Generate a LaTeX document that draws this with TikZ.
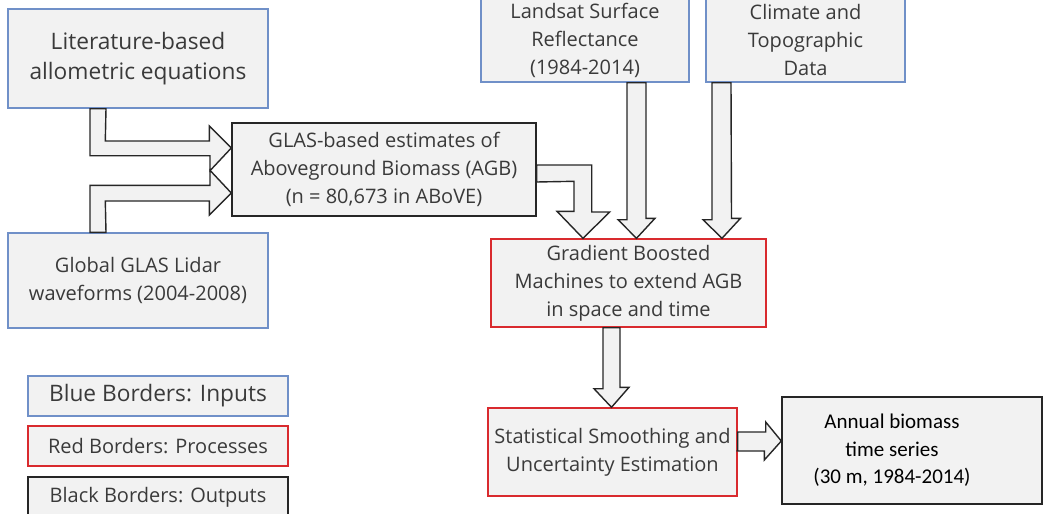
\documentclass[tikz,border=0pt]{standalone}
\usepackage{fontspec}
\setmainfont{Open Sans}
\newfontfamily\calfont{Carlito}
\usepackage{xcolor}
\usetikzlibrary{calc}
\definecolor{BInput}{HTML}{7090C8}
\definecolor{RProc}{HTML}{D92A2E}
\definecolor{KOut}{HTML}{262626}
\definecolor{BFill}{HTML}{F2F2F2}
\definecolor{TGray}{HTML}{3A3A3A}

\begin{document}
\begin{tikzpicture}[
  x=1pt,y=-1pt,
  box/.style={fill=BFill,line width=1.4pt,align=center,inner sep=0pt,
    text=TGray,font=\fontsize{20}{28}\selectfont},
  big/.style={font=\fontsize{22.7}{30}\selectfont},
  inp/.style={box,draw=BInput},
  proc/.style={box,draw=RProc},
  outp/.style={box,draw=KOut},
  barrow/.style={draw=KOut,fill=BFill,line width=1.4pt,line join=miter}
]
  \useasboundingbox (0,0) rectangle (1050,514);
  % inputs
  \node[inp,big,minimum width=260,minimum height=99] (lit) at (138,58.5)
    {Literature-based\\allometric equations};
  \node[inp,minimum width=260,minimum height=95] (glas) at (138,280.5)
    {Global GLAS Lidar\\waveforms (2004-2008)};
  \node[inp,minimum width=208,minimum height=84] (landsat) at (585,40)
    {Landsat Surface\\Reflectance\\(1984-2014)};
  \node[inp,minimum width=199,minimum height=84] (clim) at (805.5,40)
    {Climate and\\Topographic\\Data};
  % processes and outputs
  \node[outp,minimum width=304,minimum height=93] (est) at (384,169.5)
    {GLAS-based estimates of\\Aboveground Biomass (AGB)\\(n = 80,673 in ABoVE)};
  \node[proc,minimum width=275,minimum height=88] (gbm) at (628.5,283)
    {Gradient Boosted\\Machines to extend AGB\\in space and time};
  \node[proc,minimum width=249,minimum height=88] (smooth) at (612.5,452)
    {Statistical Smoothing and\\Uncertainty Estimation};
  \node[outp,minimum width=260,minimum height=107,text=black,
    font=\calfont\fontsize{21}{27.5}\selectfont] (annual) at (912,450.5)
    {\begin{tabular}{@{}c@{\hspace{40pt}}}Annual biomass\\time series\\
      (30 m, 1984-2014)\end{tabular}};
  % legend
  \node[inp,big,minimum width=260,minimum height=40] (lgb) at (158,396)
    {Blue Borders: Inputs};
  \node[proc,minimum width=260,minimum height=40] (lgr) at (158,446)
    {Red Borders: Processes};
  \node[outp,minimum width=260,minimum height=40] (lgk) at (158,497)
    {Black Borders: Outputs};
  % block arrows
  \draw[barrow] ($(lit.south)+(-48,0)$) -- ++(0,47) -- ++(120,0) -- ++(0,15)
    -- ($(est.west)+(0,-21.5)$) -- ++(-22,-22) -- ++(0,15) -- ++(-104,0)
    -- ($(lit.south)+(-32,0)$) -- cycle;
  \draw[barrow] ($(glas.north)+(-48,0)$) -- ++(0,-47) -- ++(120,0) -- ++(0,-15)
    -- ($(est.west)+(0,23.5)$) -- ++(-22,22) -- ++(0,-14) -- ++(-104,0)
    -- ($(glas.north)+(-32,0)$) -- cycle;
  \draw[barrow] ($(est.east)+(0,-4.5)$) -- ++(55,0) -- ++(0,47) -- ++(18,0)
    -- ($(gbm.north)+(-45.5,0)$) -- ++(-26,-27) -- ++(17,0) -- ++(0,-30)
    -- ($(est.east)+(0,12.5)$) -- cycle;
  \draw[barrow] ($(landsat.south)+(42,0)$) -- ++(0,137) -- ++(-9,0)
    -- ($(gbm.north)+(8,0)$) -- ++(18.5,-20) -- ++(-9,0)
    -- ($(landsat.south)+(61,0)$) -- cycle;
  \draw[barrow] ($(clim.south)+(-93.5,0)$) -- ++(0,137) -- ++(-9,0)
    -- ($(gbm.north)+(93.5,0)$) -- ++(18.5,-20) -- ++(-9,0)
    -- ($(clim.south)+(-74.5,0)$) -- cycle;
  \draw[barrow] ($(gbm.south)+(-25.5,0)$) -- ++(0,61) -- ++(-9,0)
    -- ($(smooth.north)+(-1,0)$) -- ++(17.5,-20) -- ++(-9,0)
    -- ($(gbm.south)+(-8.5,0)$) -- cycle;
  \draw[barrow] ($(smooth.east)+(0,-20)$) -- ++(28,0) -- ++(0,-10)
    -- ($(annual.west)+(0,-9.5)$) -- ++(-17,19) -- ++(0,-9) -- ++(-28,0)
    -- ($(smooth.east)+(0,-1)$) -- cycle;
\end{tikzpicture}
\end{document}
